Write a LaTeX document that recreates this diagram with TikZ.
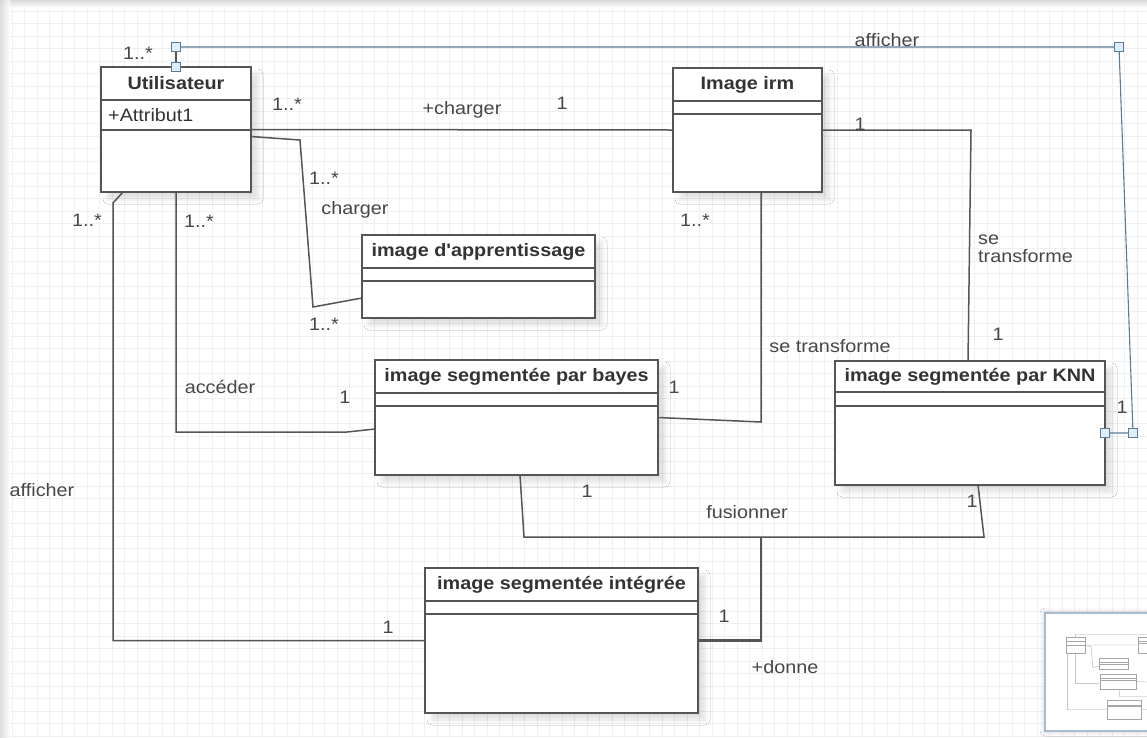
\documentclass[tikz,border=0pt]{standalone}
\usepackage{fontspec}
\newfontfamily\uifont[FakeStretch=1.1]{Liberation Sans}
\usetikzlibrary{shadows.blur}

\definecolor{boxline}{HTML}{555555}
\definecolor{titlecol}{HTML}{333333}
\definecolor{labelcol}{HTML}{474747}
\definecolor{selblue}{HTML}{5E7B96}
\definecolor{handlefill}{HTML}{DDEFFC}
\definecolor{gridcol}{HTML}{EFEFEF}
\definecolor{edgecol}{HTML}{D6D6D6}
\definecolor{mapframe}{HTML}{A9BCCF}

\newcommand\basefont{\uifont\fontsize{18pt}{21pt}\selectfont}

\tikzset{
  classbox/.style={draw=boxline, fill=white, line width=1.6pt, inner sep=0pt,
    outer sep=0pt, anchor=north west,
    blur shadow={shadow xshift=7pt, shadow yshift=-7pt, shadow opacity=12,
      shadow blur radius=5pt}},
  divider/.style={draw=boxline, line width=1.6pt},
  classtitle/.style={font=\basefont\bfseries, text=titlecol, inner sep=0pt},
  attrtext/.style={text=titlecol, inner sep=0pt, anchor=west},
  assoc/.style={draw=boxline, line width=1.5pt, line join=miter},
  lbl/.style={text=labelcol, inner sep=0pt},
  selline/.style={draw=selblue, line width=1.1pt},
  handle/.style={draw=selblue, fill=handlefill, line width=0.9pt,
    minimum size=9pt, inner sep=0pt, rectangle},
  thumb/.style={draw=gray!70, line width=0.35pt},
}

% class box: name, left, top, right, bottom, divider 1, divider 2, title
\newcommand\umlclass[8]{%
  \node[classbox, minimum width={#4-#2}, minimum height={#5-#3}] (#1) at (#2,#3) {};
  \draw[divider] (#2,#6) -- (#4,#6) (#2,#7) -- (#4,#7);
  \node[classtitle] (#1-title) at ({(#2+#4)/2},{(#3+#6)/2}) {#8};
}

% outline of the whole diagram, reused for the overview panel
\newcommand\overviewsketch{%
  \draw[thumb, fill=white] (101,67) rectangle (251,192) (673,68) rectangle (822,192)
    (362,235) rectangle (595,318) (375,360) rectangle (658,475)
    (835,361) rectangle (1105,485) (425,568) rectangle (698,713);
  \draw[thumb] (101,100) -- (251,100) (101,130) -- (251,130)
    (673,101) -- (822,101) (673,114) -- (822,114)
    (362,268) -- (595,268) (362,281) -- (595,281)
    (375,393) -- (658,393) (375,406) -- (658,406)
    (835,392) -- (1105,392) (835,406) -- (1105,406)
    (425,601) -- (698,601) (425,614) -- (698,614);
  \draw[thumb] (251,130) -- (673,130)
    (252,137) -- (300,140) -- (313,307) -- (362,298)
    (176,192) -- (176,432) -- (347,432) -- (375,429)
    (122,192) -- (113,203) -- (113,640) -- (425,640)
    (761,192) -- (761,422) -- (658,418)
    (822,130) -- (971,130) -- (968,361)
    (520,475) -- (524,537) -- (984,537) -- (978,485)
    (761,537) -- (761,640) -- (698,640)
    (176,67) -- (176,47) -- (1119,47) -- (1133,433) -- (1105,433);
}

\begin{document}
\begin{tikzpicture}[x=1pt, y=-1pt, font=\basefont]
  \useasboundingbox (0,0) rectangle (1147,737);

  % canvas with its grid and soft edges
  \fill[white] (0,0) rectangle (1147,737);
  \foreach \gx in {12,24.5,...,1147} \draw[gridcol, line width=0.6pt] (\gx,8) -- (\gx,737);
  \foreach \gy in {11,23.5,...,737} \draw[gridcol, line width=0.6pt] (10,\gy) -- (1147,\gy);
  \shade[top color=edgecol, bottom color=white, opacity=0.9] (0,0) rectangle (1147,8);
  \shade[left color=edgecol, right color=white, opacity=0.8] (0,0) rectangle (10,737);

  % classes
  \umlclass{user}{101}{67}{251}{192}{100}{130}{Utilisateur}
  \node[attrtext] (user-attr) at (108,115) {+Attribut1};
  \umlclass{irm}{673}{68}{822}{192}{101}{114}{Image irm}
  \umlclass{appr}{362}{235}{595}{318}{268}{281}{image d'apprentissage}
  \umlclass{bayes}{375}{360}{658}{475}{393}{406}{image segmentée par bayes}
  \umlclass{knn}{835}{361}{1105}{485}{392}{406}{image segmentée par KNN}
  \umlclass{integ}{425}{568}{698}{713}{601}{614}{image segmentée intégrée}

  % +charger
  \draw[assoc] (user.east) -- (irm.west);
  % charger
  \draw[assoc] ([yshift=-7pt]user.east) -- (300,140) -- (313,307) -- ([yshift=-21.5pt]appr.west);
  % accéder
  \draw[assoc] (user.south) |- (347,432) -- ([yshift=-11.5pt]bayes.west);
  % afficher (left side)
  \draw[assoc] ([xshift=-53pt]user.south) -- (113,203) |- (integ.west);
  % se transforme (bayes)
  \draw[assoc] ([xshift=13.5pt]irm.south) -- (761,422) -- (bayes.east);
  % se transforme (KNN)
  \draw[assoc] (irm.east) -- (971,130) -- ([xshift=-2pt]knn.north);
  % fusionner
  \draw[assoc] ([xshift=3.5pt]bayes.south) -- (524,537) -- (984,537) -- ([xshift=8pt]knn.south);
  \coordinate (fus) at (761,537);
  % +donne
  \draw[assoc, line width=2.3pt] (fus) |- (integ.east);

  % afficher (top, selected connector with handles)
  \coordinate (topL) at (176,47);
  \coordinate (topR) at (1119,47);
  \coordinate (sideR) at (1133,433);
  \draw[assoc] (user.north) -- (topL);
  \draw[selline] (topL) -- (topR) -- (sideR) -- ([yshift=-10pt]knn.east);
  \node[handle] (h1) at (topL) {};
  \node[handle] (h2) at (user.north) {};
  \node[handle] (h3) at (topR) {};
  \node[handle] (h4) at (sideR) {};
  \node[handle] (h5) at ([yshift=-10pt]knn.east) {};

  % labels
  \node[lbl] (m1) at (138,53) {1..*};
  \node[lbl] (l-aff1) at (887,40) {afficher};
  \node[lbl] (m2) at (287,104) {1..*};
  \node[lbl] (l-charg1) at (462,110) {+charger};
  \node[lbl] (m3) at (562,103) {1};
  \node[lbl] (m4) at (860,124) {1};
  \node[lbl] (m5) at (324,178) {1..*};
  \node[lbl] (l-charg2) at (355,210) {charger};
  \node[lbl] (m6) at (324,324) {1..*};
  \node[lbl] (m7) at (87,220) {1..*};
  \node[lbl] (m8) at (199,221) {1..*};
  \node[lbl] (l-acc) at (220,387) {accéder};
  \node[lbl] (m9) at (345,397) {1};
  \node[lbl] (l-aff2) at (42,490) {afficher};
  \node[lbl] (m10) at (695,220) {1..*};
  \node[lbl, align=left, anchor=west] (l-tr1) at (978,249) {se\\[-3pt]transforme};
  \node[lbl] (m11) at (998,334) {1};
  \node[lbl] (l-tr2) at (830,346) {se transforme};
  \node[lbl] (m12) at (674,387) {1};
  \node[lbl] (m13) at (1122,407) {1};
  \node[lbl] (m14) at (587,491) {1};
  \node[lbl] (l-fus) at (747,512) {fusionner};
  \node[lbl] (m15) at (972,501) {1};
  \node[lbl] (m16) at (388,627) {1};
  \node[lbl] (m17) at (724,616) {1};
  \node[lbl] (l-don) at (785,667) {+donne};

  % overview panel
  \fill[white, blur shadow={shadow xshift=0pt, shadow yshift=0pt, shadow opacity=25,
      shadow blur radius=5pt}] (1045,613) rectangle (1160,731);
  \draw[mapframe, line width=2pt] (1045,613) rectangle (1160,731);
  \begin{scope}
    \clip (1047,615) rectangle (1158,729);
    \begin{scope}[shift={(1053,628.5)}, scale=0.127]
      \overviewsketch
    \end{scope}
  \end{scope}
\end{tikzpicture}
\end{document}
